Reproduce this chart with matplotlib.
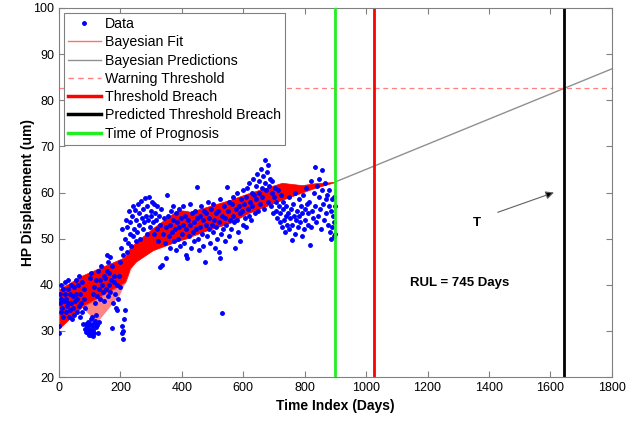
import matplotlib as mpl
import matplotlib.pyplot as plt
from matplotlib.lines import Line2D

# scatter data
data_pts = [
  (0,29.5),(0,31),(2,36),(3,38),(5,40),(6,34),(8,37),(10,35),(12,39),(14,33),(15,36.5),(18,38),(20,40.5),(22,34),(24,37),(25,35.5),(28,39),(30,41),(30,36),(32,33),(35,38),(36,34.5),(38,40),(40,36),(42,32.5),(44,37.5),(45,35),(48,39.5),(50,33.5),(52,36.5),(54,41),(55,38),(58,34),(60,37),
  (62,40),(64,35.5),(66,42),(68,38),(70,33),(72,36),(74,40.5),(76,34),(78,31.5),(80,37),(82,39),(84,35),(85,30.5),(87,31.5),(88,29.8),(90,30),(92,31),(94,29.5),(95,32),(97,30.5),(98,29),(100,31.5),(102,30),(104,32.5),(105,29.2),(107,31),(108,33),(110,30.2),(112,28.8),(114,31.8),(115,29.6),(118,32.2),(120,30.8),(122,33.5),(125,31.2),(128,29.5),(130,32),(100,41.5),(105,42.5),(110,38),(115,39.5),(118,36),(120,41),(125,37.5),(128,43),(130,39),
  (132,41),(135,37),(138,44),(140,40),(142,38.5),(145,42),(148,36.5),(150,41.5),(152,39),(155,46.5),(157,43),(158,37.5),(160,45),(162,40),(164,42.5),(165,46),(167,38.5),(170,41),(172,30.6),(174,44),(176,36),(178,40.5),(180,42),(182,38),(185,35),(188,34.5),(190,40),(192,37),(195,42),(198,45),(200,39.5),(202,48),(204,31),(205,29.5),(206,52),(207,28.2),(208,30),(210,46.5),(212,32.5),(214,34.5),(215,50),
  (218,54),(220,47),(222,52.5),(225,49),(228,56),(230,51),(232,53.5),(235,48.5),(238,55),(240,50.5),(242,57),(245,52),(247,56.2),(250,49.5),(252,54),(255,51.5),(258,57.5),(260,53),(262,55.5),(265,50),(268,58.2),(270,54.5),(272,52),(275,56.5),(278,53.5),(280,58.8),(282,55),(285,51),(288,57),(290,54),(292,59),(295,52.5),(298,56),(300,55),(302,58),(305,53.5),(308,57.5),(310,51),(312,55.5),(315,54),(318,57),(320,52),(322,49.5),(325,55),(328,53),(330,43.8),(332,56.5),(335,44.3),(338,51),
  (342,54.5),(345,49),(348,52.5),(350,45.8),(352,59.5),(355,55),(358,50.5),(360,53),(362,48),(365,56),(368,51.5),(370,54),(372,57),(375,49.5),(378,52),(380,55.5),(382,47.5),(385,53.5),(388,50),(390,56.5),(392,52.5),(395,48.5),(398,54.5),(400,51),(403,57),(405,53),(408,49),(410,55),(412,46.5),(415,52),(417,45.8),(420,54),(422,50.5),(425,57.5),(428,53),(430,48),(432,55.5),(435,51.5),(438,53.5),(440,49.5),(442,56),(445,52),(448,61.2),(450,54.5),(452,50),(455,47.5),(458,55),(460,52.5),(462,57),(465,51),(468,54),(470,48.5),(472,56),(475,45),(478,53),(480,55.5),(482,50.5),(485,58),(488,52),(490,54.5),(492,49),(495,56.5),(498,53),(500,51.5),(502,57.5),(505,54),(508,48),(510,52.5),(512,55.5),(515,50),(518,56),(520,53.5),(522,47),(524,45.8),(525,58.5),(528,51),(530,33.9),(532,55),(535,52),(538,57),(540,49.5),(542,54.5),(545,53),(547,61.2),(550,56),(552,50.5),(555,58),(558,54),
  (560,52),(562,57.5),(565,55),(568,59),(570,53.5),(572,48),(575,56.5),(578,54),(580,60),(582,51.5),(585,57),(588,55.5),(590,49.5),(592,58.5),(595,56),(598,53),(600,60.5),(602,57.5),(605,54.5),(608,59),(610,52.5),(612,61),(615,56.5),(618,55),(620,62),(622,58),(625,54),(628,60),(630,57),(632,63),(635,59.5),(638,55.5),(640,61.5),(642,58.5),(645,64),(648,56),(650,60),(652,62.5),(655,57.5),(658,65),(660,61),(662,59),(665,63.5),(668,56.5),(670,67),(672,62),(675,60.5),(678,64.5),(680,66),(682,58),(685,61.5),(688,63),(690,57),(692,60),(695,62.5),(698,55.5),(700,59),(702,61),(705,56),(708,58),(710,54.5),(712,60.5),(715,57),(718,53.5),(720,55.5),(722,59.5),(725,52.5),(728,56.5),(730,58),(732,54),(735,51.5),(738,55),
  (740,57),(742,53),(745,55.5),(748,59),(750,52),(752,54.5),(755,56.5),(758,49.7),(760,53),(762,57.5),(765,55),(768,51),(770,60),(772,54),(775,56),(778,52.5),(780,58.5),(782,55),(785,53.5),(788,57),(790,50.5),(792,55.5),(795,59.5),(798,52),(800,56.5),(802,54),(805,61),(808,57.5),(810,53),(812,55.5),(815,58),(817,48.6),(820,52.5),(822,62.5),(825,56),(828,54.5),(830,60),(833,65.5),(835,57),(838,53.5),(840,61.5),(842,55),(845,59),(848,63),(850,56.5),(852,52),(855,64.9),(858,60.5),(860,57.5),(862,54),(865,62),(868,58.5),(870,55.5),(872,59.5),(875,53),(878,57),(880,60.5),(882,51.5),(885,56),(887,50),(888,58.5),(890,52.5),(892,55),(894,50.5),(895,59),(897,53.5),(898,57),(900,51),
]
data_x = [p[0] for p in data_pts]
data_y = [p[1] for p in data_pts]

# bayesian fit envelope
band_x = [0, 75, 215, 221, 231, 250, 306, 387, 417, 426, 482, 557, 615, 726, 791, 833, 900]
band_lo = [30.5, 35.2, 40.5, 41.5, 43.5, 45.0, 47.5, 49.5, 50.1, 50.4, 51.8, 53.4, 55.5, 58.4, 60.0, 61.0, 62.3]
band_hi = [39.0, 42.0, 46.0, 46.8, 48.0, 49.2, 52.3, 56.2, 56.0, 55.8, 56.9, 58.4, 59.8, 62.1, 61.6, 62.0, 62.3]
# lighter dip under the band
dip_x = [75, 124, 199, 247, 215]
dip_y = [35.2, 31.7, 37.8, 44.9, 40.5]

pred_x = [900, 1800]
pred_y = [62.3, 86.8]

warn_level = 82.6
t_prog = 900
t_breach = 1025
t_pred = 1645

mpl.rcParams.update({
  'font.family': 'Liberation Sans',
  'font.size': 8.5
})

fig = plt.figure( figsize=( 6.44, 4.21 ), dpi=100 )
ax = fig.add_axes( [ 0.0916, 0.1045, 0.8584, 0.8765 ] )

ax.fill_between( band_x, band_lo, band_hi, color='red', lw=0.5 )
ax.fill( dip_x, dip_y, color='#ff5050', alpha=0.7, lw=0 )
ax.plot( data_x, data_y, '.', color='blue', ms=5, zorder=3 )
ax.plot( pred_x, pred_y, color='#909090', lw=1 )
ax.axhline( warn_level, color='#ff8080', ls='--', lw=0.9, dashes=( 4, 3 ) )
ax.axvline( t_breach, color='red', lw=2 )
ax.axvline( t_pred, color='black', lw=2 )
ax.axvline( t_prog, color='#22ee22', lw=2, zorder=4 )

ax.text( 1143, 40.4, 'RUL = 745 Days', fontweight='bold', fontsize=9.5, va='center' )
ax.text( 1361, 53.3, 'T', fontweight='bold', fontsize=9.5, ha='center', va='center' )
ax.annotate( '', xy=( 1620, 60.2 ), xytext=( 1420, 55.5 ),
  arrowprops=dict( arrowstyle='-|>', color='#606060', lw=0.8, mutation_scale=12, fc='black' ) )

handles = [
  Line2D( [], [], ls='none', marker='.', color='blue', ms=5 ),
  Line2D( [], [], color='#ff7070', lw=1 ),
  Line2D( [], [], color='#909090', lw=1 ),
  Line2D( [], [], color='#ff8080', lw=1, ls='--', dashes=( 4, 3 ) ),
  Line2D( [], [], color='red', lw=2.5 ),
  Line2D( [], [], color='black', lw=2.5 ),
  Line2D( [], [], color='#22ee22', lw=2.5 ),
]
labels = [ 'Data', 'Bayesian Fit', 'Bayesian Predictions', 'Warning Threshold',
  'Threshold Breach', 'Predicted Threshold Breach', 'Time of Prognosis' ]
leg = ax.legend( handles, labels, loc='upper left', fontsize=10.2, fancybox=False,
  edgecolor='#808080', framealpha=1, borderaxespad=0.35, handlelength=2.3,
  labelspacing=0.3, borderpad=0.3, handletextpad=0.3 )
leg.get_frame().set_linewidth( 0.8 )

ax.set_xlim( 0, 1800 )
ax.set_ylim( 20, 100 )
ax.set_xticks( range( 0, 1801, 200 ) )
ax.set_yticks( range( 20, 101, 10 ) )
ax.tick_params( direction='in', top=True, right=True, length=4, color='#808080', labelsize=9 )
for s in ax.spines.values():
  s.set_color( '#808080' )
ax.set_xlabel( 'Time Index (Days)', fontweight='bold', fontsize=10 )
ax.set_ylabel( 'HP Displacement (um)', fontweight='bold', fontsize=10 )
ax.yaxis.set_label_coords( -0.043, 0.5 )

fig.savefig( 'out.png' )
